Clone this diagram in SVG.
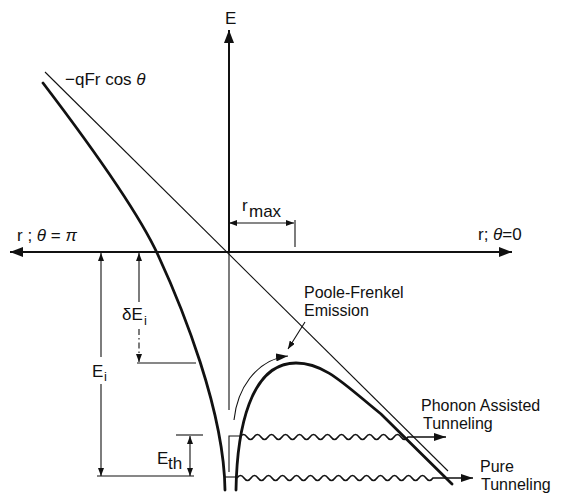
<svg xmlns="http://www.w3.org/2000/svg" width="562" height="494" viewBox="0 0 562 494">
<style>
  text { font-family: "Liberation Sans", Arial, sans-serif; fill: #111; font-size: 17px; }
  .lbl { font-size: 16px; }
  .sub { font-size: 13px; }
  .it { font-style: italic; }
  .thin { fill: none; stroke: #111; stroke-width: 1.1; }
  .thick { fill: none; stroke: #111; stroke-width: 2.8; stroke-linecap: round; }
  .axis { fill: none; stroke: #111; stroke-width: 2; }
  .wave { fill: none; stroke: #111; stroke-width: 1.6; }
</style>
<defs>
  <marker id="ax" markerUnits="userSpaceOnUse" markerWidth="13" markerHeight="10" refX="13" refY="5" orient="auto-start-reverse">
    <path d="M0,0 L13,5 L0,10 z" fill="#111"/>
  </marker>
  <marker id="dim" markerUnits="userSpaceOnUse" markerWidth="8" markerHeight="6" refX="8" refY="3" orient="auto-start-reverse">
    <path d="M0,0 L8,3 L0,6 z" fill="#111"/>
  </marker>
  <marker id="fl" markerUnits="userSpaceOnUse" markerWidth="12" markerHeight="8" refX="12" refY="4" orient="auto">
    <path d="M0,0 L12,4 L0,8 z" fill="#111"/>
  </marker>
</defs>

<g id="axes">
  <line class="axis" x1="229" y1="252" x2="229" y2="30" marker-end="url(#ax)"/>
  <line class="thin" x1="229" y1="252" x2="229" y2="410"/>
  <line class="axis" x1="10" y1="252" x2="512" y2="252" marker-start="url(#ax)" marker-end="url(#ax)"/>
  <text id="label-E" x="225" y="24" font-size="16">E</text>
  <text id="label-left" x="17" y="241">r ; <tspan class="it">θ</tspan> = <tspan class="it">π</tspan></text>
  <text id="label-right" x="478" y="240">r; <tspan class="it">θ</tspan>=0</text>
</g>

<g id="field-line">
  <line class="thin" x1="45" y1="72" x2="448" y2="471"/>
  <text x="65" y="85">−qFr cos <tspan class="it">θ</tspan></text>
</g>

<g id="potential">
  <path class="thick" d="M43,83 C75,125 135,205 158,255 C182,307 224,410 225,490"/>
  <path class="thick" d="M236,490 C237,430 250,363 296,363 C325,363 345,385 381,414 L452,484"/>
</g>

<g id="rmax">
  <line class="thin" x1="229" y1="223" x2="294" y2="223" marker-start="url(#dim)" marker-end="url(#dim)"/>
  <line class="thin" x1="295" y1="220" x2="295" y2="247"/>
  <text x="242" y="211" font-size="15">r</text>
  <text x="249" y="217" font-size="15">max</text>
</g>

<g id="Ei">
  <line class="thin" x1="101" y1="253" x2="101" y2="357" marker-start="url(#dim)"/>
  <line class="thin" x1="101" y1="384" x2="101" y2="476" marker-end="url(#dim)"/>
  <line class="thin" x1="97" y1="476" x2="194" y2="476"/>
  <text x="92" y="377">E</text>
  <text class="sub" x="104" y="381">i</text>
</g>

<g id="dEi">
  <line class="thin" x1="139" y1="253" x2="139" y2="302" marker-start="url(#dim)"/>
  <line class="thin" x1="139" y1="329" x2="139" y2="362" stroke-dasharray="6 3 1.5 3" marker-end="url(#dim)"/>
  <line class="thin" x1="137" y1="363" x2="196" y2="363"/>
  <text x="122" y="320">δE</text>
  <text class="sub" x="144" y="325">i</text>
</g>

<g id="Eth">
  <line class="thin" x1="176" y1="435" x2="203" y2="435"/>
  <line class="thin" x1="190" y1="436" x2="190" y2="476" marker-start="url(#dim)" marker-end="url(#dim)"/>
  <text x="157" y="464" font-size="16">E</text>
  <text x="168" y="469" font-size="14">th</text>
</g>

<g id="poole-frenkel">
  <path class="thin" stroke-width="1.5" d="M234,420 C237,390 255,360 288,356" marker-end="url(#fl)"/>
  <line class="thin" x1="305" y1="322" x2="288" y2="349" marker-end="url(#dim)"/>
  <text class="lbl" x="304" y="298">Poole-Frenkel</text>
  <text class="lbl" x="304" y="316">Emission</text>
</g>

<g id="phonon-assisted">
  <path class="thin" stroke-width="1.3" d="M229,472 L229,436 L240,436"/>
  <path class="wave" d="M240,437 q3.5,-5 7,0 t7,0 t7,0 t7,0 t7,0 t7,0 t7,0 t7,0 t7,0 t7,0 t7,0 t7,0 t7,0 t7,0 t7,0 t7,0 t7,0 t7,0 t7,0 t7,0 t7,0 t7,0 t7,0 t7,0 L446,437" marker-end="url(#fl)"/>
  <text class="lbl" x="421" y="411">Phonon Assisted</text>
  <text class="lbl" x="423" y="429">Tunneling</text>
</g>

<g id="pure-tunneling">
  <path class="thin" stroke-width="1.3" d="M224,477 L237,477"/>
  <path class="wave" d="M237,478 q3.5,-5 7,0 t7,0 t7,0 t7,0 t7,0 t7,0 t7,0 t7,0 t7,0 t7,0 t7,0 t7,0 t7,0 t7,0 t7,0 t7,0 t7,0 t7,0 t7,0 t7,0 t7,0 t7,0 t7,0 t7,0 t7,0 t7,0 t7,0 t7,0 L473,478" marker-end="url(#fl)"/>
  <text class="lbl" x="480" y="472">Pure</text>
  <text class="lbl" x="481" y="490">Tunneling</text>
</g>
</svg>
